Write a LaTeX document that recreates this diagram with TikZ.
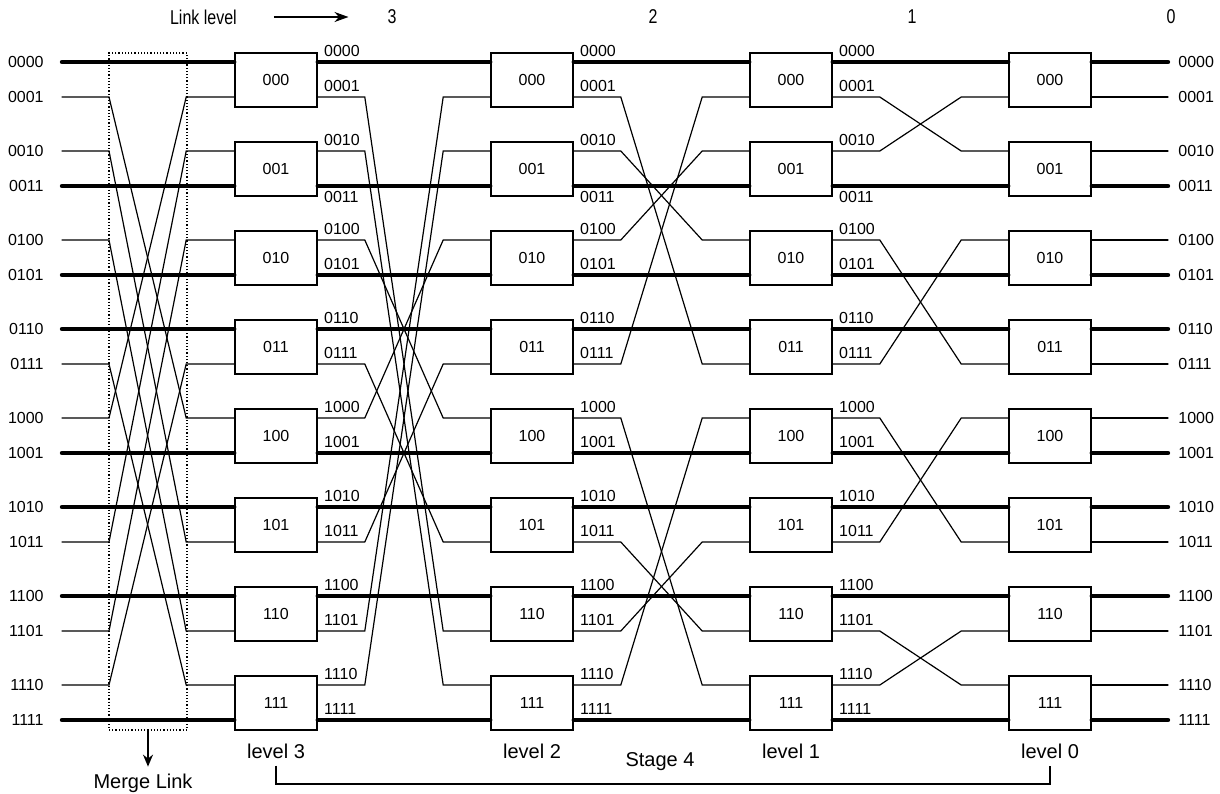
\documentclass[tikz,border=0pt]{standalone}
\usepackage{fontspec}
\setmainfont{Liberation Sans}
\usetikzlibrary{calc,positioning,arrows.meta}

\tikzset{
  switch/.style={draw, line width=0.8pt, minimum width=41pt, minimum height=27pt, inner sep=0pt, font=\fontsize{8}{9}\selectfont},
  bus/.style={line width=2.2pt, line cap=round},
  wire/.style={line width=0.6pt, line cap=round},
  portlabel/.style={inner sep=0pt, font=\fontsize{8}{9}\selectfont},
  caption/.style={font=\fontsize{10}{12}\selectfont},
}

\begin{document}
\begin{tikzpicture}[x=0.5pt, y=-0.5pt]
    \useasboundingbox (0,0) rectangle (1220,793);
    \def\rows{0/0000,1/0001,2/0010,3/0011,4/0100,5/0101,6/0110,7/0111,8/1000,9/1001,10/1010,11/1011,12/1100,13/1101,14/1110,15/1111}

    \foreach \r/\bits in \rows {
        \pgfmathsetmacro\y{62+89*div(\r,2)+35*mod(\r,2)}
        \coordinate (R\r) at (0,\y);
        \node[portlabel, anchor=east, inner xsep=9pt] (in\r) at (62,\y) {\bits};
        \node[portlabel, anchor=west, inner xsep=5pt] (out\r) at (1168,\y) {\bits};
    }

    \foreach \k/\x in {3/276,2/532,1/791,0/1050} {
        \foreach \s/\bits in {0/000,1/001,2/010,3/011,4/100,5/101,6/110,7/111}
            \node[switch] (L\k-\s) at (\x,{80+89*\s}) {\bits};
        \node[caption, below=3pt of L\k-7] (lv\k) {level \k};
    }

    \foreach \k in {3,2,1,0}
        \foreach \r in {0,...,15} {
            \pgfmathtruncatemacro\s{div(\r,2)}
            \coordinate (L\k-w\r) at (L\k-\s.west |- R\r);
            \coordinate (L\k-e\r) at (L\k-\s.east |- R\r);
        }

    \foreach \k in {3,2,1}
        \foreach \r/\bits in \rows {
            \ifnum\r=3
                \node[portlabel, anchor=north west] (p\k-\r) at ($(L\k-e\r)+(6,5)$) {\bits};
            \else
                \node[portlabel, anchor=south west] (p\k-\r) at ($(L\k-e\r)+(6,-5)$) {\bits};
            \fi
        }

    \foreach \r in {0,3,5,6,9,10,12,15} {
        \draw[bus] (in\r.east) -- (L3-w\r);
        \draw[bus] (L3-e\r) -- (L2-w\r);
        \draw[bus] (L2-e\r) -- (L1-w\r);
        \draw[bus] (L1-e\r) -- (L0-w\r);
        \draw[bus] (L0-e\r) -- (out\r.west);
    }

    \foreach \r/\tm/\tc/\tb/\ta in {1/8/13/7/2,2/11/14/4/1,4/13/8/2/7,7/14/11/1/4,8/1/4/14/11,11/2/7/13/8,13/4/1/11/14,14/7/2/8/13} {
        \draw[wire] (in\r.east) -- ++(47,0) -- ($(L3-w\tm)+(-48,0)$) -- (L3-w\tm);
        \draw[wire] (L3-e\r) -- ++(47,0) -- ($(L2-w\tc)+(-47,0)$) -- (L2-w\tc);
        \draw[wire] (L2-e\r) -- ++(47,0) -- ($(L1-w\tb)+(-47,0)$) -- (L1-w\tb);
        \draw[wire] (L1-e\r) -- ++(47,0) -- ($(L0-w\ta)+(-47,0)$) -- (L0-w\ta);
        \draw[wire] (L0-e\r) -- (out\r.west);
    }

    \node[draw, densely dotted, line width=0.6pt, minimum width=39pt, minimum height=338.5pt, inner sep=0pt] (merge) at (148,391.5) {};
    \node[caption] (mergelabel) at (143,783) {Merge Link};
    \draw[line width=0.8pt, -{Stealth[length=6pt,width=5pt]}] (merge.south) -- (merge.south |- mergelabel.north);

    \node[caption, anchor=west] (linklevel) at (163,17) {\scalebox{0.8}[1]{Link level}};
    \foreach \k/\x in {3/392,2/653,1/912,0/1171}
        \node[caption] (link\k) at (\x,17) {\scalebox{0.8}[1]{\k}};
    \draw[line width=1pt, -{Stealth[length=7pt,width=5pt]}, shorten <=15pt, shorten >=16pt] (linklevel) -- (link3);

    \node[caption] (stage) at (660,762) {Stage 4};
    \coordinate (brk) at (0,784);
    \draw[line width=0.8pt] (lv3.south) -- (lv3.south |- brk) -- (lv0.south |- brk) -- (lv0.south);
\end{tikzpicture}
\end{document}
